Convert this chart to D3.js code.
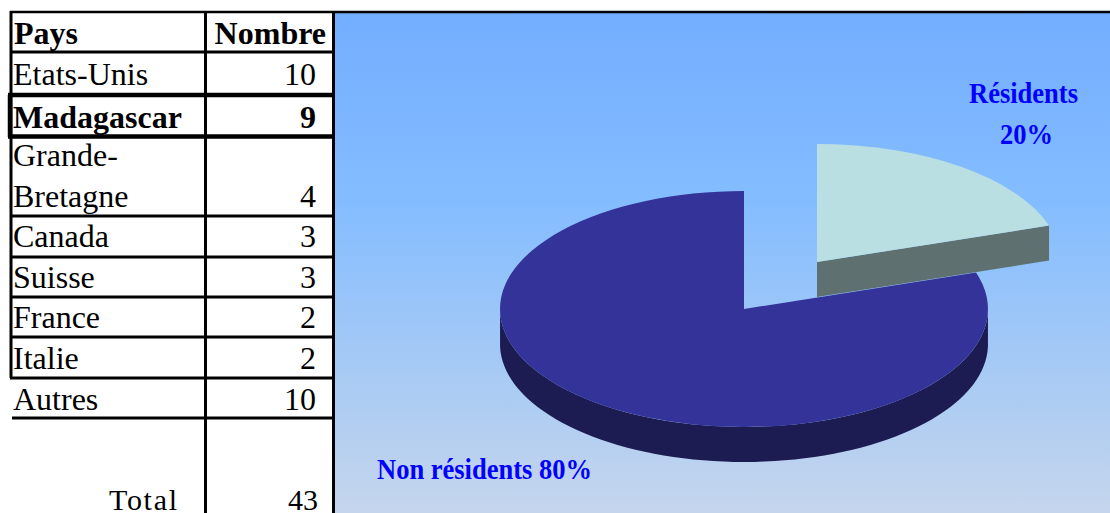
<!DOCTYPE html>
<html><head><meta charset="utf-8">
<script src="https://cdn.jsdelivr.net/npm/d3@7"></script>
<style>html,body{margin:0;padding:0;background:#fff}svg{display:block}text{font-family:"Liberation Serif",serif}</style>
</head><body><svg id="c" width="1110" height="513"></svg>
<script>
const countries=["Etats-Unis","Madagascar","Grande-|Bretagne","Canada","Suisse","France","Italie","Autres"];
const counts=[10,9,4,3,3,2,2,10];
const totalLabel="Total", totalValue=43;
const headers=["Pays","Nombre"];
const shareNames=["Résidents","Non résidents"];
const shareValues=[20,80];

const svg=d3.select("#c");
const defs=svg.append("defs");
const g=defs.append("linearGradient").attr("id","bg").attr("x1",0).attr("x2",0).attr("y1",0).attr("y2",1);
[[0,"#73adff"],[0.38,"#84bdff"],[1,"#c5d5ec"]].forEach(s=>g.append("stop").attr("offset",s[0]).attr("stop-color",s[1]));
svg.append("rect").attr("x",335).attr("y",13).attr("width",775).attr("height",500).attr("fill","url(#bg)");

// table
const rowBottoms=[52,94,136,216,257,297,337,378,418];
const black="#000";
const line=(x1,y1,x2,y2,w)=>svg.append("line").attr("x1",x1).attr("y1",y1).attr("x2",x2).attr("y2",y2).attr("stroke",black).attr("stroke-width",w);
line(10,12,1110,12,2.5);
line(11,11,11,378,3);
line(205.5,11,205.5,513,3);
line(333.5,11,333.5,513,3);
rowBottoms.forEach((y,i)=>{
  if(i===1||i===2) return;
  line(i===8?12:10,y,335,y,3);
});
line(8,95,335,95,4.5);
line(8,136.5,335,136.5,4.5);
line(10,95,10,137,4.5);

const tf=(x,y,s,o={})=>{
  const t=svg.append("text").attr("x",x).attr("y",y).attr("font-size",o.size||32).attr("font-weight",o.bold?700:400).attr("text-anchor",o.anchor||"start").attr("fill",o.fill||"#000").text(s);
  if(o.len) t.attr("textLength",o.len).attr("lengthAdjust",o.adjust||"spacingAndGlyphs");
  return t;
};
tf(14,44,headers[0],{bold:true});
tf(326,44,headers[1],{bold:true,anchor:"end"});
const baselines=[85,128,207,247,288,328,369,410];
countries.forEach((c,i)=>{
  const bold=c==="Madagascar";
  const parts=c.split("|");
  parts.forEach((p,j)=>tf(13,baselines[i]-(parts.length-1-j)*41,p,{bold}));
  tf(316,baselines[i],counts[i],{bold,anchor:"end"});
});
tf(109,510,totalLabel,{size:30,len:68,adjust:"spacing"});
tf(318,510,totalValue,{size:30,anchor:"end"});

// pie
const rx=244, ry=118, depth=35;
const px=d3.scaleLinear().domain([-1,1]).range([-rx,rx]);
const py=d3.scaleLinear().domain([-1,1]).range([-ry,ry]);
const pie=d3.pie().sort(null)(shareValues);
const arcGen=d3.arc().innerRadius(0).outerRadius(1);
const centers=[[817,262],[744,309]];
const tops=["#b9dfe2","#333399"], sides=["#5f7071","#1c1c52"];
const pt=(a,r=1)=>[px(Math.sin(a)*r),py(-Math.cos(a)*r)];

const drawSlice=(i)=>{
  const d=pie[i],c=centers[i];
  const gg=svg.append("g").attr("transform",`translate(${c[0]},${c[1]})`);
  const steps=d3.range(0,121).map(k=>d.startAngle+(d.endAngle-d.startAngle)*k/120);
  const vis=steps.filter(a=>a>=Math.PI/2&&a<=1.5*Math.PI);
  if(vis.length){
    const area=d3.area().x(a=>pt(a)[0]).y0(a=>pt(a)[1]).y1(a=>pt(a)[1]+depth);
    gg.append("path").attr("d",area(vis)).attr("fill",sides[i]);
  }
  if(i===0){
    const e=pt(d.endAngle);
    gg.append("path").attr("d",d3.line()([[0,0],e,[e[0],e[1]+depth],[0,depth]])+"Z").attr("fill",sides[i]);
  }
  gg.append("path").attr("d",arcGen(d)).attr("transform",`scale(${px(1)},${py(1)})`).attr("fill",tops[i]);
};
drawSlice(1);
drawSlice(0);

const lab=(x,y,s,len)=>svg.append("text").attr("x",x).attr("y",y).attr("font-size",30).attr("font-weight",700).attr("fill","#0000ff").attr("textLength",len).attr("lengthAdjust","spacingAndGlyphs").text(s);
lab(969,103,shareNames[0],109);
lab(1000,144,shareValues[0]+"%",53);
lab(377,479,shareNames[1]+" "+shareValues[1]+"%",215);
</script></body></html>
